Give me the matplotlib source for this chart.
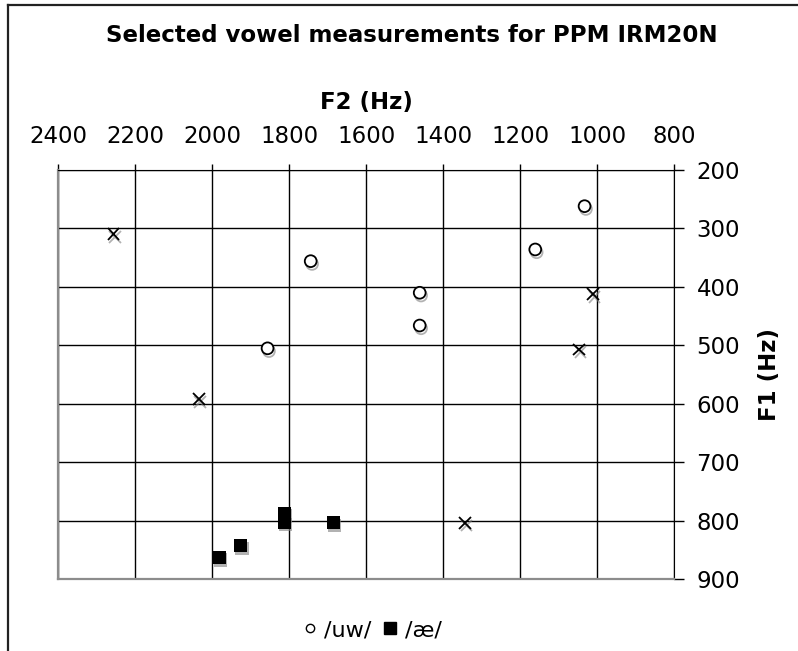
import matplotlib
matplotlib.use("Agg")
import matplotlib.pyplot as plt
import matplotlib.patheffects as pe
from matplotlib.lines import Line2D

uw_f2 = [1744, 1461, 1461, 1856, 1033, 1161]
uw_f1 = [356, 410, 466, 505, 262, 336]
ae_f2 = [1982, 1926, 1813, 1813, 1685]
ae_f1 = [862, 842, 787, 802, 803]
other_f2 = [2256, 2034, 1011, 1047, 1343]
other_f1 = [310, 592, 412, 507, 803]

x_ticks = [2400, 2200, 2000, 1800, 1600, 1400, 1200, 1000, 800]
y_ticks = [200, 300, 400, 500, 600, 700, 800, 900]

plt.rcParams['font.family'] = ['DejaVu Sans']

fig = plt.figure(figsize=(7.98, 6.51), dpi=100)
ax = fig.add_axes([0.0727, 0.110, 0.7723, 0.629])

line_shadow = [pe.SimpleLineShadow(offset=(1, -2), shadow_color='gray', alpha=0.6), pe.Normal()]
box_shadow = [pe.SimplePatchShadow(offset=(1, -2), shadow_rgbFace='gray', alpha=0.6), pe.Normal()]

ax.plot(uw_f2, uw_f1, linestyle='none', marker='o', ms=8.5, mfc='white', mec='black', mew=1.3,
        path_effects=line_shadow, zorder=5)
ax.plot(ae_f2, ae_f1, linestyle='none', marker='s', ms=9.5, mfc='black', mec='black', mew=0,
        path_effects=box_shadow, zorder=5)
ax.plot(other_f2, other_f1, linestyle='none', marker='x', ms=8.5, mec='black', mew=1.3,
        path_effects=line_shadow, zorder=5)

ax.set_xlim(2400, 800)
ax.set_ylim(900, 200)
ax.set_xticks(x_ticks)
ax.set_yticks(y_ticks)
ax.grid(True, color='black', linewidth=1.0)
ax.set_axisbelow(True)

ax.xaxis.tick_top()
ax.yaxis.tick_right()
ax.tick_params(axis='x', direction='out', length=4, width=1, pad=12, labelsize=16.5)
ax.tick_params(axis='y', direction='out', length=7, width=1, pad=9, labelsize=16.5)

ax.spines['top'].set_color('black')
ax.spines['right'].set_color('black')
ax.spines['left'].set_color('#8c8c8c')
ax.spines['bottom'].set_color('#8c8c8c')
ax.spines['left'].set_linewidth(1.6)
ax.spines['bottom'].set_linewidth(1.6)

ax.xaxis.set_label_position('top')
ax.set_xlabel('F2 (Hz)', fontsize=16.5, fontweight='bold', labelpad=11)
ax.yaxis.set_label_position('right')
ax.set_ylabel('F1 (Hz)', fontsize=16.5, fontweight='bold', labelpad=13)

fig.text(0.516, 0.945, 'Selected vowel measurements for PPM IRM20N', ha='center', va='center',
         fontsize=16.5, fontweight='bold')

handles = [Line2D([0], [0], linestyle='none', marker='o', ms=6, mfc='white', mec='black', mew=1),
           Line2D([0], [0], linestyle='none', marker='s', ms=8.5, mfc='black', mec='black')]
fig.legend(handles, ['/uw/', '/æ/'], loc='center', bbox_to_anchor=(0.466, 0.032), ncol=2,
           frameon=False, fontsize=16, handletextpad=0.3, columnspacing=0.5, handlelength=0.7)

# chart frame (top and left edges visible)
fig.add_artist(Line2D([0.010, 1.0], [0.992, 0.992], color='#222222', linewidth=1.6))
fig.add_artist(Line2D([0.010, 0.010], [0.0, 0.992], color='#222222', linewidth=1.6))

fig.savefig('out.png', dpi=100)
